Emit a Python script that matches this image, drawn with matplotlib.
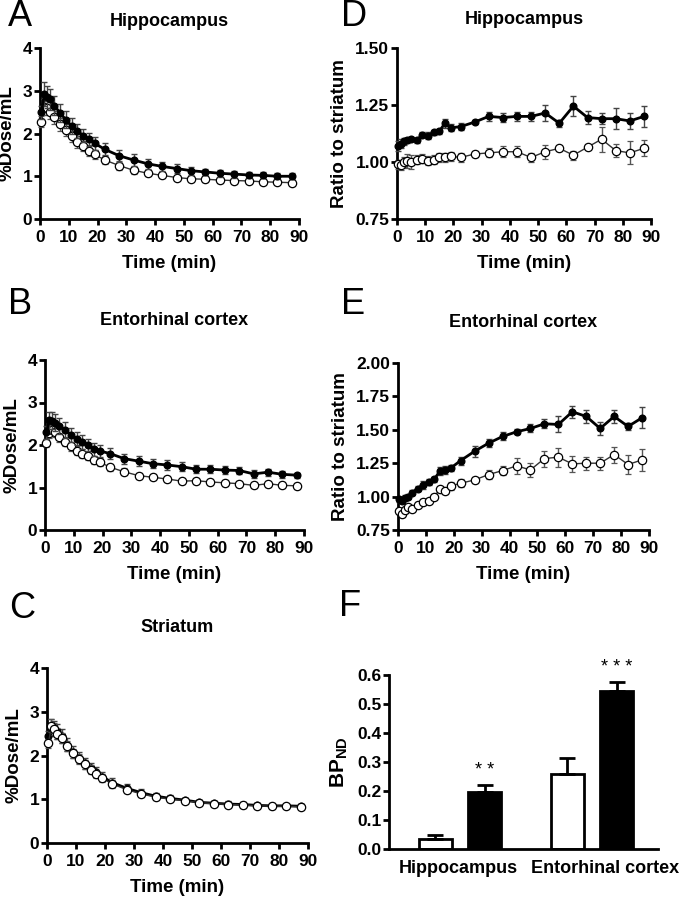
import numpy as np
import matplotlib
matplotlib.use('Agg')
import matplotlib.pyplot as plt
from matplotlib.ticker import FormatStrFormatter

plt.rcParams['font.family'] = ['Liberation Sans', 'DejaVu Sans']
plt.rcParams['font.weight'] = 'bold'
plt.rcParams['mathtext.fontset'] = 'custom'
plt.rcParams['mathtext.bf'] = 'Liberation Sans:bold'
plt.rcParams['mathtext.rm'] = 'Liberation Sans:bold'

#frame mid-times (min)
times = [0.5, 1.5, 2.5, 3.5, 5, 7, 9, 11, 13, 15, 17, 19, 22.5, 27.5, 32.5,
         37.5, 42.5, 47.5, 52.5, 57.5, 62.5, 67.5, 72.5, 77.5, 82.5, 87.5]

#A hippocampus %dose/mL
hipFilled = [2.5, 2.92, 2.85, 2.8, 2.65, 2.48, 2.32, 2.18, 2.06, 1.95, 1.86, 1.77, 1.63,
             1.48, 1.38, 1.29, 1.23, 1.18, 1.13, 1.1, 1.07, 1.05, 1.03, 1.02, 1.0, 1.0]
hipFilledErr = [0.15, 0.28, 0.25, 0.25, 0.22, 0.22, 0.2, 0.18, 0.17, 0.16, 0.16, 0.15, 0.14,
                0.14, 0.13, 0.12, 0.11, 0.1, 0.09, 0.08, 0.08, 0.08, 0.08, 0.07, 0.07, 0.07]
hipOpen = [2.28, 2.62, 2.6, 2.5, 2.38, 2.22, 2.08, 1.93, 1.8, 1.7, 1.6, 1.51, 1.38,
           1.25, 1.14, 1.07, 1.02, 0.97, 0.94, 0.93, 0.91, 0.9, 0.89, 0.87, 0.86, 0.85]
hipOpenErr = [0.12, 0.18, 0.17, 0.16, 0.15, 0.15, 0.14, 0.14, 0.13, 0.12, 0.12, 0.11, 0.1,
              0.1, 0.08, 0.07, 0.07, 0.06, 0.06, 0.06, 0.06, 0.06, 0.05, 0.05, 0.05, 0.05]

#B entorhinal cortex %dose/mL
ecFilled = [2.3, 2.58, 2.57, 2.52, 2.45, 2.35, 2.24, 2.15, 2.07, 2.0, 1.9, 1.86, 1.8,
            1.68, 1.62, 1.56, 1.53, 1.49, 1.43, 1.43, 1.41, 1.4, 1.32, 1.36, 1.31, 1.29]
ecFilledErr = [0.15, 0.2, 0.2, 0.2, 0.19, 0.18, 0.17, 0.16, 0.16, 0.15, 0.15, 0.14, 0.13,
               0.12, 0.11, 0.11, 0.11, 0.11, 0.1, 0.1, 0.1, 0.09, 0.09, 0.08, 0.08, 0.06]
ecOpen = [2.05, 2.28, 2.35, 2.3, 2.18, 2.08, 1.97, 1.87, 1.8, 1.73, 1.65, 1.6, 1.48,
          1.37, 1.28, 1.24, 1.2, 1.15, 1.16, 1.13, 1.11, 1.09, 1.05, 1.09, 1.05, 1.04]
ecOpenErr = [0.1, 0.12, 0.12, 0.12, 0.11, 0.11, 0.1, 0.1, 0.1, 0.09, 0.09, 0.09, 0.08,
             0.08, 0.07, 0.07, 0.07, 0.07, 0.07, 0.07, 0.07, 0.07, 0.07, 0.07, 0.07, 0.07]

#C striatum %dose/mL
strFilled = [2.45, 2.65, 2.62, 2.55, 2.45, 2.25, 2.08, 1.95, 1.82, 1.72, 1.62, 1.52, 1.38,
             1.25, 1.15, 1.07, 1.02, 0.98, 0.93, 0.91, 0.89, 0.88, 0.86, 0.85, 0.85, 0.84]
strFilledErr = [0.12, 0.18, 0.18, 0.17, 0.16, 0.15, 0.14, 0.13, 0.12, 0.12, 0.11, 0.1, 0.1,
                0.09, 0.08, 0.07, 0.07, 0.06, 0.06, 0.06, 0.06, 0.06, 0.06, 0.06, 0.05, 0.05]
strOpen = [2.28, 2.68, 2.6, 2.5, 2.4, 2.22, 2.05, 1.92, 1.8, 1.68, 1.58, 1.48, 1.35,
           1.22, 1.12, 1.05, 1.0, 0.97, 0.92, 0.9, 0.88, 0.87, 0.85, 0.84, 0.84, 0.83]
strOpenErr = [0.1, 0.15, 0.14, 0.13, 0.12, 0.12, 0.11, 0.11, 0.1, 0.1, 0.1, 0.09, 0.09,
              0.08, 0.07, 0.07, 0.07, 0.06, 0.06, 0.06, 0.06, 0.06, 0.06, 0.06, 0.05, 0.05]

#D hippocampus ratio to striatum
hipRatioFilled = [1.07, 1.08, 1.09, 1.095, 1.1, 1.095, 1.12, 1.115, 1.13, 1.135, 1.17, 1.15, 1.155,
                  1.175, 1.2, 1.195, 1.2, 1.2, 1.215, 1.17, 1.245, 1.195, 1.19, 1.19, 1.18, 1.2]
hipRatioFilledErr = [0.02, 0.02, 0.015, 0.01, 0.01, 0.01, 0.01, 0.015, 0.01, 0.01, 0.02, 0.015, 0.015,
                     0.01, 0.02, 0.02, 0.02, 0.02, 0.035, 0.015, 0.045, 0.03, 0.025, 0.045, 0.035, 0.045]
hipRatioOpen = [0.99, 0.985, 1.0, 1.005, 1.0, 1.01, 1.015, 1.005, 1.01, 1.02, 1.02, 1.025, 1.02,
                1.035, 1.04, 1.045, 1.045, 1.02, 1.045, 1.06, 1.03, 1.065, 1.1, 1.05, 1.04, 1.06]
hipRatioOpenErr = [0.02, 0.02, 0.02, 0.03, 0.03, 0.02, 0.02, 0.02, 0.02, 0.02, 0.02, 0.02, 0.02,
                   0.015, 0.02, 0.025, 0.025, 0.02, 0.03, 0.01, 0.02, 0.01, 0.055, 0.03, 0.05, 0.035]

#E entorhinal cortex ratio to striatum
ecRatioFilled = [0.98, 0.97, 0.99, 1.0, 1.03, 1.06, 1.09, 1.11, 1.13, 1.19, 1.2, 1.215, 1.27,
                 1.34, 1.4, 1.45, 1.485, 1.51, 1.545, 1.54, 1.635, 1.6, 1.51, 1.6, 1.525, 1.59]
ecRatioFilledErr = [0.02, 0.02, 0.02, 0.02, 0.02, 0.02, 0.03, 0.02, 0.02, 0.03, 0.03, 0.02, 0.03,
                    0.04, 0.03, 0.03, 0.02, 0.03, 0.035, 0.06, 0.045, 0.05, 0.05, 0.05, 0.025, 0.08]
ecRatioOpen = [0.89, 0.87, 0.9, 0.92, 0.91, 0.94, 0.96, 0.97, 1.0, 1.055, 1.04, 1.08, 1.1,
               1.125, 1.165, 1.195, 1.23, 1.2, 1.285, 1.295, 1.245, 1.25, 1.25, 1.315, 1.24, 1.275]
ecRatioOpenErr = [0.02, 0.02, 0.02, 0.02, 0.02, 0.02, 0.02, 0.02, 0.02, 0.02, 0.02, 0.03, 0.03,
                  0.02, 0.035, 0.035, 0.06, 0.05, 0.06, 0.07, 0.06, 0.05, 0.05, 0.06, 0.07, 0.08]

#F binding potential
bpRegions = ['Hippocampus', 'Entorhinal cortex']
bpOpen = [0.033, 0.257]
bpOpenErr = [0.017, 0.058]
bpFilled = [0.195, 0.545]
bpFilledErr = [0.025, 0.03]
bpStars = ['* *', '* * *']

W, H = 679, 900
fig = plt.figure(figsize=(W/100, H/100), dpi=100)

#axes rect from pixel box (left, top, right, bottom)
def addAxes(l, t, r, b):
    return fig.add_axes([l/W, 1-b/H, (r-l)/W, (b-t)/H])

def styleAxes(ax):
    for s in ['top', 'right']:
        ax.spines[s].set_visible(False)
    for s in ['left', 'bottom']:
        ax.spines[s].set_linewidth(2)
    ax.tick_params(width=2, length=4, labelsize=12.5)
    ax.tick_params(axis='x', pad=4)
    ax.tick_params(axis='y', pad=1.5)
    for lab in ax.get_xticklabels() + ax.get_yticklabels():
        lab.set_fontweight('bold')

def timeCourse(ax, filled, filledErr, opened, openedErr, ylim, yticks, fmt, ylabel, openOnTop=False):
    zOpen, zFilled = (4, 3) if openOnTop else (3, 4)
    ax.errorbar(times, opened, yerr=openedErr, color='#333333', lw=1, ecolor='#555555',
                elinewidth=1, capsize=2.5, capthick=1, marker='o', ms=6, mfc='white',
                mec='black', mew=0.9, zorder=zOpen)
    ax.errorbar(times, filled, yerr=filledErr, color='black', lw=2, ecolor='#444444',
                elinewidth=1, capsize=2.5, capthick=1, marker='o', ms=4.8, mfc='black',
                mec='black', zorder=zFilled)
    ax.set_xlim(0, 90)
    ax.set_xticks(range(0, 91, 10))
    ax.set_ylim(*ylim)
    ax.set_yticks(yticks)
    ax.yaxis.set_major_formatter(FormatStrFormatter(fmt))
    ax.set_xlabel('Time (min)', fontsize=13.5, fontweight='bold', labelpad=7)
    ax.set_ylabel(ylabel, fontsize=13.5, fontweight='bold', labelpad=5)
    for c in ax.get_children():
        c.set_clip_on(False)
    styleAxes(ax)

axA = addAxes(40, 48, 299, 219)
timeCourse(axA, hipFilled, hipFilledErr, hipOpen, hipOpenErr, (0, 4), range(0, 5), '%d', '%Dose/mL')
axB = addAxes(45, 360, 304, 530)
timeCourse(axB, ecFilled, ecFilledErr, ecOpen, ecOpenErr, (0, 4), range(0, 5), '%d', '%Dose/mL')
axC = addAxes(47, 668, 308, 843)
timeCourse(axC, strFilled, strFilledErr, strOpen, strOpenErr, (0, 4), range(0, 5), '%d', '%Dose/mL',
           openOnTop=True)
axD = addAxes(397, 48, 651, 219)
timeCourse(axD, hipRatioFilled, hipRatioFilledErr, hipRatioOpen, hipRatioOpenErr, (0.75, 1.5),
           [0.75, 1.0, 1.25, 1.5], '%.2f', 'Ratio to striatum')
axE = addAxes(398, 363, 649, 530)
timeCourse(axE, ecRatioFilled, ecRatioFilledErr, ecRatioOpen, ecRatioOpenErr, (0.75, 2.0),
           [0.75, 1.0, 1.25, 1.5, 1.75, 2.0], '%.2f', 'Ratio to striatum')

#bar chart F
axF = addAxes(389, 675, 658, 849)
openPos = [1.4, 5.4]
filledPos = [2.9, 6.9]
axF.bar(openPos, bpOpen, width=1, color='white', edgecolor='black', linewidth=2)
axF.bar(filledPos, bpFilled, width=1, color='black', edgecolor='black', linewidth=2)
axF.errorbar(openPos, bpOpen, yerr=[[0, 0], bpOpenErr], fmt='none', ecolor='black',
             elinewidth=2, capsize=6, capthick=2)
axF.errorbar(filledPos, bpFilled, yerr=[[0, 0], bpFilledErr], fmt='none', ecolor='black',
             elinewidth=2, capsize=6, capthick=2)
for p, v, e, s in zip(filledPos, bpFilled, bpFilledErr, bpStars):
    axF.text(p, v + e + 0.05, s, ha='center', va='center', fontsize=13, fontweight='normal')
axF.set_xlim(0, 8.15)
axF.set_ylim(0, 0.6)
axF.set_yticks(np.arange(0, 0.61, 0.1))
axF.yaxis.set_major_formatter(FormatStrFormatter('%.1f'))
axF.set_xticks([2.1, 6.55])
axF.set_xticklabels(bpRegions)
axF.set_ylabel(r'$\mathbf{BP_{ND}}$', fontsize=15, labelpad=5)
styleAxes(axF)
axF.tick_params(axis='x', length=0, labelsize=13, pad=8)

#panel titles
titles = [(axA, 'Hippocampus', 22), (axB, 'Entorhinal cortex', 320), (axC, 'Striatum', 628),
          (axD, 'Hippocampus', 20), (axE, 'Entorhinal cortex', 323)]
for ax, t, y in titles:
    pos = ax.get_position()
    fig.text(pos.x0 + pos.width/2, 1 - y/H, t, ha='center', va='center', fontsize=13, fontweight='bold')

#panel letters
letters = [('A', 20, 17), ('B', 20, 305), ('C', 22, 608), ('D', 354, 17), ('E', 353, 304), ('F', 350, 607)]
for l, x, y in letters:
    fig.text(x/W, 1 - y/H, l, ha='center', va='center', fontsize=26, fontweight='normal')

fig.savefig('out.png', dpi=100)
